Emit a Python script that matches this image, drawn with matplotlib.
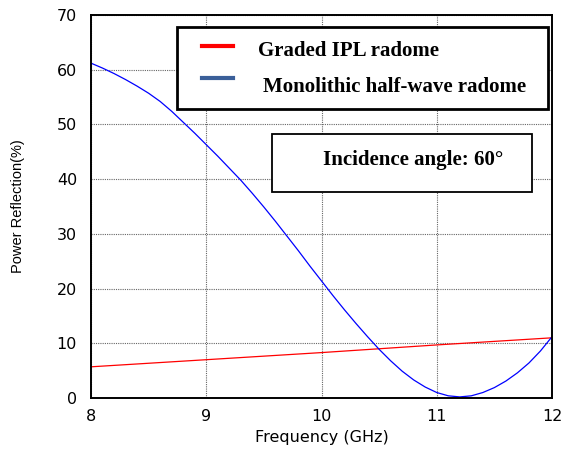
import matplotlib
matplotlib.use("Agg")
import matplotlib.pyplot as plt
from matplotlib.patches import Rectangle
from matplotlib.lines import Line2D

# ---- data ----
freq_ipl = [8.0, 9.0, 10.0, 11.0, 12.0]
refl_ipl = [5.7, 7.0, 8.3, 9.7, 11.0]

freq_mono = [8.0, 8.1, 8.2, 8.3, 8.4, 8.5, 8.6, 8.7, 8.8, 8.9,
             9.0, 9.1, 9.2, 9.3, 9.4, 9.5, 9.6, 9.7, 9.8, 9.9,
             10.0, 10.1, 10.2, 10.3, 10.4, 10.5, 10.6, 10.7, 10.8, 10.9,
             11.0, 11.1, 11.2, 11.3, 11.4, 11.5, 11.6, 11.7, 11.8, 11.9, 12.0]
refl_mono = [61.2, 60.3, 59.3, 58.2, 57.0, 55.7, 54.2, 52.4, 50.4, 48.4,
             46.3, 44.2, 42.0, 39.8, 37.4, 34.9, 32.3, 29.6, 26.9, 24.1,
             21.4, 18.7, 16.1, 13.6, 11.2, 8.9, 6.8, 4.9, 3.3, 2.0,
             1.0, 0.4, 0.2, 0.4, 1.0, 1.9, 3.1, 4.6, 6.4, 8.6, 11.2]

x_ticks = [8, 9, 10, 11, 12]
y_ticks = [0, 10, 20, 30, 40, 50, 60, 70]
legend_labels = ["Graded IPL radome", "Monolithic half-wave radome"]
annotation = "Incidence angle: 60°"

W, H = 565, 450
fig = plt.figure(figsize=(W / 100, H / 100), dpi=100)
L, R, T, B = 91, 552, 15, 398
ax = fig.add_axes([L / W, 1 - B / H, (R - L) / W, (B - T) / H])

ax.plot(freq_ipl, refl_ipl, color="red", lw=0.9)
ax.plot(freq_mono, refl_mono, color="blue", lw=0.9)

ax.set_xlim(8, 12)
ax.set_ylim(0, 70)
ax.set_xticks(x_ticks)
ax.set_yticks(y_ticks)
ax.grid(True, color="0.4", linestyle=(0, (1, 1)), lw=0.8)
for s in ax.spines.values():
    s.set_linewidth(1.4)
    s.set_color("black")
ax.tick_params(length=0, labelsize=11.5)
ax.tick_params(axis="x", pad=8)
ax.tick_params(axis="y", pad=10)
for lab in ax.get_xticklabels() + ax.get_yticklabels():
    lab.set_family("DejaVu Sans")

ax.set_xlabel("Frequency (GHz)", fontsize=11.5, family="DejaVu Sans", va="center")
ax.xaxis.set_label_coords(0.5, -0.104)
ax.set_ylabel("Power Reflection(%)", fontsize=10.5, family="Liberation Sans")
ax.yaxis.set_label_coords(-0.143, 0.5)


def fx(px):
    return px / W


def fy(py):
    return 1 - py / H


serif = "Liberation Serif"
# legend box
fig.patches.append(Rectangle((fx(177), fy(109)), fx(548) - fx(177), fy(27) - fy(109),
                             transform=fig.transFigure, fill=True, facecolor="white",
                             edgecolor="black", lw=2.0, zorder=5))
fig.lines.append(Line2D([fx(202), fx(233)], [fy(46), fy(46)], transform=fig.transFigure,
                        color="red", lw=3, zorder=6))
fig.lines.append(Line2D([fx(202), fx(233)], [fy(78), fy(78)], transform=fig.transFigure,
                        color="#3a5f99", lw=3, zorder=6))
fig.text(fx(258), fy(51.5), legend_labels[0], family=serif, weight="bold", fontsize=15,
         va="center", ha="left", zorder=7)
fig.text(fx(263), fy(86.5), legend_labels[1], family=serif, weight="bold", fontsize=15,
         va="center", ha="left", zorder=7)

# annotation box
fig.patches.append(Rectangle((fx(272), fy(192)), fx(532) - fx(272), fy(134) - fy(192),
                             transform=fig.transFigure, fill=True, facecolor="white",
                             edgecolor="black", lw=1.3, zorder=5))
fig.text(fx(413.5), fy(160), annotation, family=serif, weight="bold", fontsize=15,
         va="center", ha="center", zorder=7)

fig.savefig("out.png", dpi=100)
